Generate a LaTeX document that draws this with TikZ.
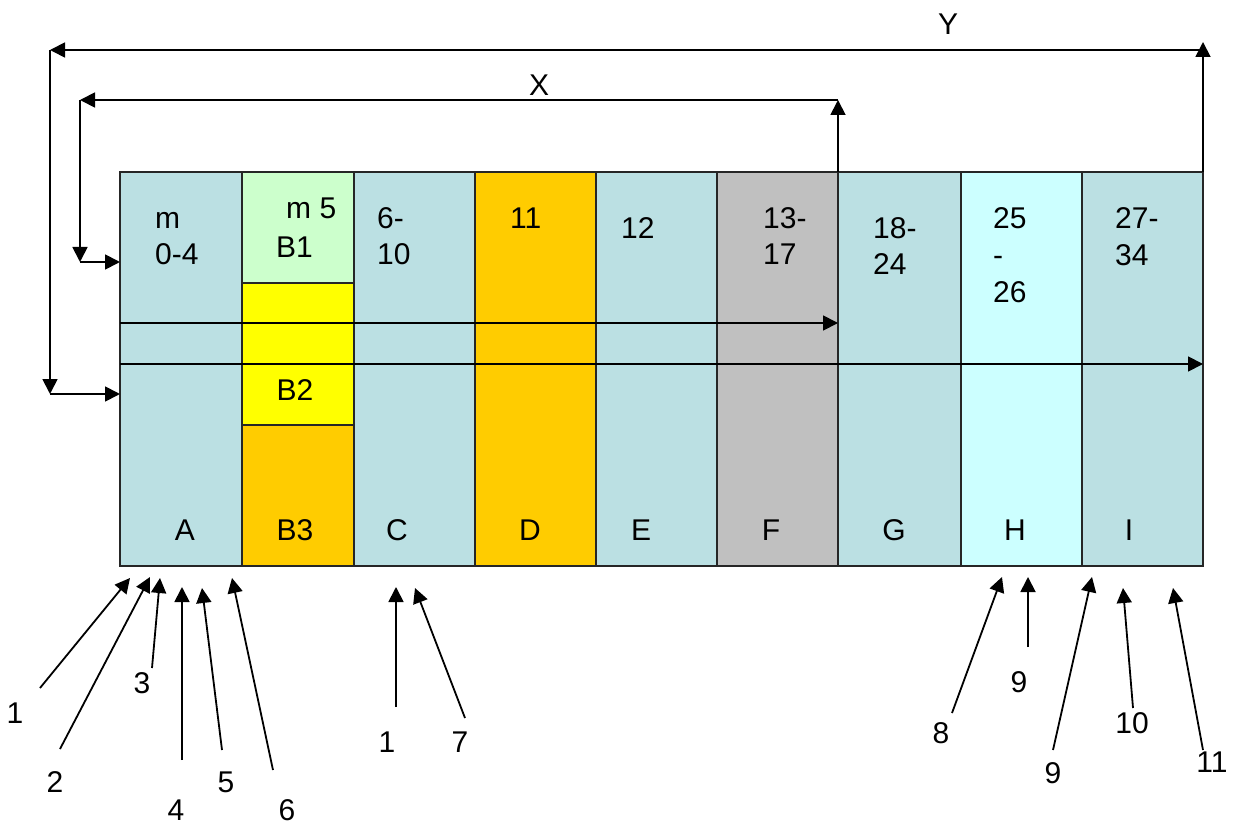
\documentclass[tikz,border=0pt]{standalone}
\usepackage{fontspec}
\setmainfont{Liberation Sans}
\usetikzlibrary{arrows.meta}
\definecolor{cblue}{RGB}{187,224,227}
\definecolor{cgreen}{RGB}{204,255,204}
\definecolor{cyellow}{RGB}{255,255,0}
\definecolor{corange}{RGB}{255,204,0}
\definecolor{cgray}{RGB}{192,192,192}
\definecolor{ccyan}{RGB}{204,255,255}
\tikzset{
  lbl/.style={inner sep=0pt, font=\fontsize{30}{36}\selectfont, text height=21.5pt, text depth=0pt},
  lblw/.style={lbl, anchor=west},
  gridline/.style={line width=1.5pt, draw=black!85},
  arr/.style={line width=1.8pt, -{Triangle[length=15pt,width=15pt]}},
}
\begin{document}
\begin{tikzpicture}[x=1pt,y=-1pt]
\useasboundingbox (0,0) rectangle (1234,826);
% column fills
\fill[cblue] (120,172) rectangle (242,566);
\fill[cgreen] (242,172) rectangle (354,283);
\fill[cyellow] (242,283) rectangle (354,425);
\fill[corange] (242,425) rectangle (354,566);
\fill[cblue] (354,172) rectangle (475,566);
\fill[corange] (475,172) rectangle (596,566);
\fill[cblue] (596,172) rectangle (717,566);
\fill[cgray] (717,172) rectangle (838,566);
\fill[cblue] (838,172) rectangle (961,566);
\fill[ccyan] (961,172) rectangle (1082,566);
\fill[cblue] (1082,172) rectangle (1203,566);
% grid lines
\draw[gridline] (120,172) rectangle (1203,566);
\foreach \xx in {242,354,475,596,717,838,961,1082}
  \draw[gridline] (\xx,172) -- (\xx,566);
\draw[gridline] (242,283) -- (354,283);
\draw[gridline] (242,425) -- (354,425);

% coordinates
\coordinate (r1s) at (120,323);
\coordinate (r1e) at (838,323);
\coordinate (r2s) at (120,364);
\coordinate (r2e) at (1203,364);
\coordinate (x0) at (838,172);
\coordinate (x1) at (838,100);
\coordinate (x2) at (80,100);
\coordinate (x3) at (80,262);
\coordinate (x4) at (120,262);
\coordinate (y0) at (1203,172);
\coordinate (y1) at (1203,42);
\coordinate (y2) at (1203,50);
\coordinate (y3) at (50,50);
\coordinate (y4) at (50,394);
\coordinate (y5) at (120,394);

% row arrows
\draw[arr] (r1s) -- (r1e);
\draw[arr] (r2s) -- (r2e);
% X path
\draw[arr] (x0) -- (x1);
\draw[arr] (x1) -- (x2);
\draw[arr] (x2) -- (x3);
\draw[arr] (x3) -- (x4);
% Y path
\draw[arr] (y0) -- (y1);
\draw[arr] (y2) -- (y3);
\draw[arr] (y3) -- (y4);
\draw[arr] (y4) -- (y5);

\node[lbl] (ly) at (948,24) {Y};
\node[lbl] (lx) at (539,85) {X};

% cell texts
\node[lblw] (a1) at (155,217.5) {m};
\node[lblw] (a2) at (155,253.5) {0-4};
\node[lblw] (b1) at (286,207.5) {m 5};
\node[lblw] (b2) at (276,246.5) {B1};
\node[lbl] (bb2) at (295,390) {B2};
\node[lblw] (c1) at (377,217.5) {6-};
\node[lblw] (c2) at (377,253.5) {10};
\node[lblw] (d1) at (510,217.5) {11};
\node[lblw] (e1) at (621,227.5) {12};
\node[lblw] (f1) at (763,217.5) {13-};
\node[lblw] (f2) at (763,253.5) {17};
\node[lblw] (g1) at (873,227.5) {18-};
\node[lblw] (g2) at (873,264) {24};
\node[lblw] (h1) at (993,217.5) {25};
\node[lblw] (h2) at (993,254.5) {-};
\node[lblw] (h3) at (993,291.5) {26};
\node[lblw] (i1) at (1115,217.5) {27-};
\node[lblw] (i2) at (1115,254.5) {34};

\node[lbl] (la) at (185,530) {A};
\node[lbl] (lb3) at (295,530) {B3};
\node[lbl] (lc) at (397,530) {C};
\node[lbl] (ld) at (530,530) {D};
\node[lbl] (le) at (641,530) {E};
\node[lbl] (lf) at (771,530) {F};
\node[lbl] (lg) at (894,530) {G};
\node[lbl] (lh) at (1015,530) {H};
\node[lbl] (li) at (1129,530) {I};

% bottom pointer arrows
\coordinate (s1) at (40,688);   \coordinate (t1) at (130,578);
\coordinate (s2) at (60,749);   \coordinate (t2) at (150,577);
\coordinate (s3) at (152,668);  \coordinate (t3) at (160,578);
\coordinate (s4) at (182,760);  \coordinate (t4) at (182,587);
\coordinate (s5) at (222,750);  \coordinate (t5) at (202,588);
\coordinate (s6) at (273,770);  \coordinate (t6) at (232,578);
\coordinate (s1b) at (396,707); \coordinate (t1b) at (396,587);
\coordinate (s7) at (465,718);  \coordinate (t7) at (415,588);
\coordinate (s8) at (952,713);  \coordinate (t8) at (1002,577);
\coordinate (s9) at (1028,647); \coordinate (t9) at (1028,577);
\coordinate (s9b) at (1053,750);\coordinate (t9b) at (1092,577);
\coordinate (s10) at (1133,708);\coordinate (t10) at (1123,588);
\coordinate (s11) at (1203,750);\coordinate (t11) at (1173,588);
\foreach \n in {1,2,3,4,5,6,1b,7,8,9,9b,10,11}
  \draw[arr] (s\n) -- (t\n);

\node[lbl] (n1) at (15,713) {1};
\node[lbl] (n2) at (55,782) {2};
\node[lbl] (n3) at (142,683) {3};
\node[lbl] (n4) at (176,810) {4};
\node[lbl] (n5) at (226,782) {5};
\node[lbl] (n6) at (287,810) {6};
\node[lbl] (n1b) at (387,742) {1};
\node[lbl] (n7) at (460,742) {7};
\node[lbl] (n8) at (941,733) {8};
\node[lbl] (n9) at (1019,682) {9};
\node[lbl] (n9b) at (1053,773) {9};
\node[lbl] (n10) at (1132,723) {10};
\node[lbl] (n11) at (1212,762) {11};
\end{tikzpicture}
\end{document}
